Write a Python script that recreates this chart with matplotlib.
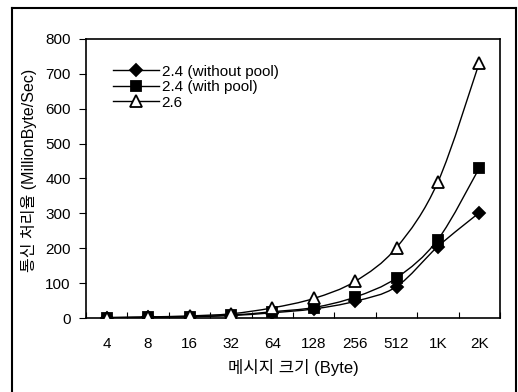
import numpy as np
import matplotlib
matplotlib.use("Agg")
import matplotlib.pyplot as plt
from matplotlib.path import Path
from matplotlib.patches import PathPatch
from matplotlib.lines import Line2D

plt.rcParams['font.family'] = ['Liberation Sans', 'Noto Sans CJK KR', 'DejaVu Sans']

sizes = ["4", "8", "16", "32", "64", "128", "256", "512", "1K", "2K"]
without_pool = [1, 2, 4, 7, 15, 26, 48, 90, 205, 302]
with_pool = [1, 2, 4, 8, 18, 30, 60, 115, 225, 430]
v26 = [1, 3, 6, 12, 29, 56, 105, 202, 390, 732]

y_ticks = [0, 100, 200, 300, 400, 500, 600, 700, 800]


def smooth_path(xs, ys, t=1/6):
    # Catmull-Rom style bezier, like the spreadsheet "smoothed line"
    xs = np.asarray(xs, float)
    ys = np.asarray(ys, float)
    verts = [(xs[0], ys[0])]
    codes = [Path.MOVETO]
    n = len(xs)
    for i in range(n - 1):
        p0 = (xs[max(i - 1, 0)], ys[max(i - 1, 0)])
        p1 = (xs[i], ys[i])
        p2 = (xs[i + 1], ys[i + 1])
        p3 = (xs[min(i + 2, n - 1)], ys[min(i + 2, n - 1)])
        c1 = (p1[0] + (p2[0] - p0[0]) * t, p1[1] + (p2[1] - p0[1]) * t)
        c2 = (p2[0] - (p3[0] - p1[0]) * t, p2[1] - (p3[1] - p1[1]) * t)
        verts += [c1, c2, p2]
        codes += [Path.CURVE4] * 3
    return Path(verts, codes)


fig = plt.figure(figsize=(5.18, 3.92), dpi=100)
ax = fig.add_axes([86 / 518, 1 - 318 / 392, (500 - 86) / 518, (318 - 39) / 392])

x = np.arange(len(sizes))
series = [
    (without_pool, "D", "black", 6.5, "2.4 (without pool)"),
    (with_pool, "s", "black", 7.5, "2.4 (with pool)"),
    (v26, "^", "white", 8.5, "2.6"),
]
handles = []
for vals, mk, fc, ms, lab in series:
    ax.add_patch(PathPatch(smooth_path(x, vals), fill=False, edgecolor="black", lw=1.0, zorder=2))
    ax.plot(x, vals, ls="none", marker=mk, ms=ms, mfc=fc, mec="black", mew=1.3, zorder=3)
    handles.append(Line2D([], [], color="black", lw=1.0, marker=mk, ms=ms, mfc=fc, mec="black", mew=1.3, label=lab))

ax.set_xlim(-0.5, len(sizes) - 0.5)
ax.set_ylim(0, 800)
ax.set_yticks(y_ticks)
ax.set_xticks(x)
ax.set_xticklabels(sizes)
ax.set_xticks(np.arange(len(sizes) + 1) - 0.5, minor=True)
ax.tick_params(axis="x", which="major", length=0, pad=14, labelsize=11)
ax.tick_params(axis="x", which="minor", direction="in", length=4, width=0.8)
ax.tick_params(axis="y", direction="out", length=5, width=0.8, pad=6, labelsize=11)
for s in ax.spines.values():
    s.set_linewidth(1.2)

ax.set_xlabel("메시지 크기 (Byte)", fontsize=12)
ax.xaxis.set_label_coords(0.502, -0.148)
ax.set_ylabel("통신 처리율 (MillionByte/Sec)", fontsize=11.5)
ax.yaxis.set_label_coords(-0.118, 0.53)

ax.legend(handles=handles, loc="upper left", bbox_to_anchor=(0.05, 0.93), frameon=False,
          fontsize=11, handlelength=3.0, handletextpad=0.2, labelspacing=0.1, borderaxespad=0)

# outer frame of the scanned figure
fig.add_artist(Line2D([12 / 518, 12 / 518], [0, 1 - 8 / 392], color="black", lw=1.5))
fig.add_artist(Line2D([12 / 518, 516 / 518], [1 - 8 / 392, 1 - 8 / 392], color="black", lw=1.5))
fig.add_artist(Line2D([516 / 518, 516 / 518], [1 - 8 / 392, 0], color="black", lw=1.5))

fig.savefig("out.png", dpi=100)
